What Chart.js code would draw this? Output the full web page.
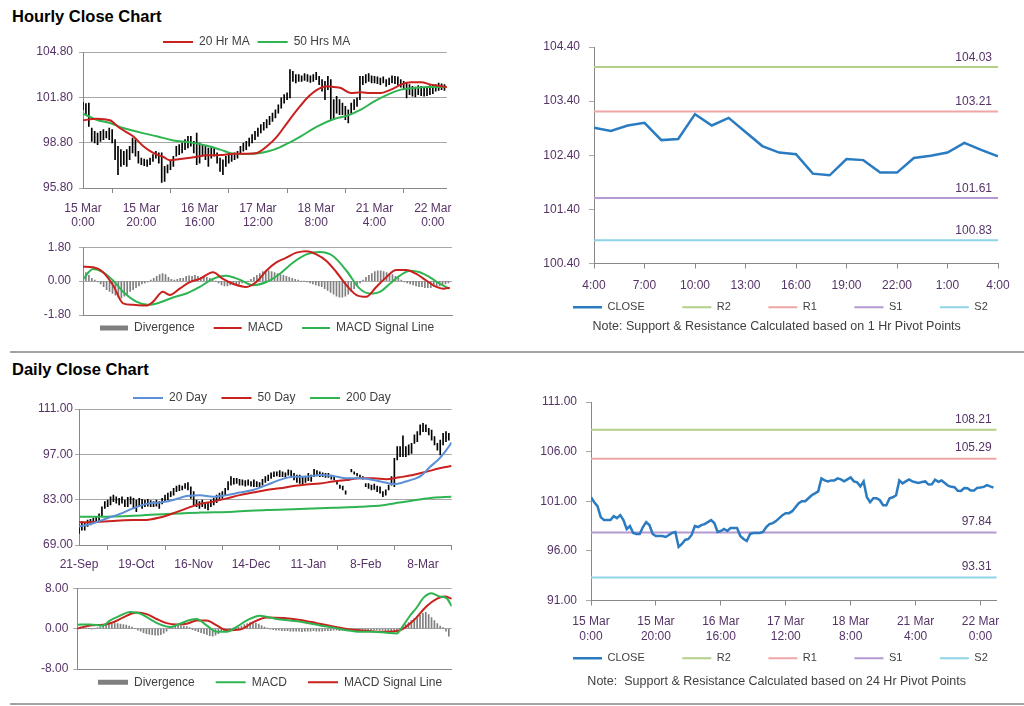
<!DOCTYPE html>
<html>
<head>
<meta charset="utf-8">
<script src="https://cdn.jsdelivr.net/npm/chart.js@4.4.0/dist/chart.umd.min.js"></script>
<style>
  html, body { margin: 0; padding: 0; background: #fff; overflow: hidden; }
  body { width: 1024px; height: 706px; position: relative; }
  .head { position: absolute; left: 12px; font: bold 16.5px "Liberation Sans", Arial, sans-serif; line-height: 16.5px; color: #000; white-space: nowrap; }
  .rule { position: absolute; left: 10px; width: 1014px; height: 2px; background: #a3a3a3; }
  canvas { position: absolute; }
</style>
</head>
<body>
<div class="head" style="top:8px">Hourly Close Chart</div>
<div class="rule" style="top:351px"></div>
<div class="head" style="top:361px">Daily Close Chart</div>
<div class="rule" style="top:703px"></div>

<canvas id="hourlyMa" width="460" height="210" style="left:0;top:22px"></canvas>
<canvas id="hourlyMacd" width="460" height="124" style="left:0;top:232px"></canvas>
<canvas id="pivot1h" width="504" height="337" style="left:520px;top:30px"></canvas>
<canvas id="dailyMa" width="460" height="205" style="left:0;top:370px"></canvas>
<canvas id="dailyMacd" width="460" height="136" style="left:0;top:576px"></canvas>
<canvas id="pivot24h" width="504" height="340" style="left:520px;top:380px"></canvas>

<script>
// ---- hourly data (15 Mar 0:00 .. 22 Mar 4:00, weekend skipped) ----
const hourlyTickIdx = [0, 20, 40, 60, 80, 100, 120];
const hourlyTickLabels = [['15 Mar', '0:00'], ['15 Mar', '20:00'], ['16 Mar', '16:00'], ['17 Mar', '12:00'],
  ['18 Mar', '8:00'], ['21 Mar', '4:00'], ['22 Mar', '0:00']];

const hourlyHigh = [101.47, 101.38, 101.42, 99.77, 99.55, 99.44, 99.55, 99.66, 99.55, 99.77,
  99.66, 99.00, 98.56, 98.34, 98.23, 98.34, 98.56, 99.11, 99.00, 98.23,
  97.78, 97.72, 97.67, 97.78, 98.01, 98.23, 98.12, 98.12, 97.23, 97.34,
  97.56, 97.90, 98.56, 98.67, 98.78, 99.00, 99.22, 99.22, 98.89, 99.44,
  98.78, 98.67, 98.56, 98.45, 98.56, 98.45, 98.12, 97.78, 97.67, 97.90,
  98.12, 98.01, 98.12, 98.23, 98.56, 98.78, 98.89, 99.11, 99.33, 99.55,
  99.77, 99.99, 100.15, 100.32, 100.54, 100.76, 100.98, 101.31, 101.76, 101.98,
  102.09, 103.63, 103.52, 103.30, 103.30, 103.23, 103.37, 103.30, 103.23, 103.30,
  103.45, 103.19, 102.97, 102.86, 103.19, 102.97, 101.65, 101.87, 101.65, 101.42,
  101.20, 100.98, 101.42, 101.65, 101.76, 103.19, 103.19, 103.30, 103.37, 103.23,
  103.19, 103.15, 103.08, 103.15, 102.97, 103.08, 103.23, 103.19, 103.15, 102.97,
  102.86, 102.75, 102.64, 102.53, 102.48, 102.57, 102.53, 102.48, 102.48, 102.57,
  102.64, 102.64, 102.75, 102.70, 102.64];
const hourlyLow = [100.98, 100.65, 99.88, 98.89, 98.78, 98.67, 98.89, 99.00, 99.11, 99.00,
  98.78, 97.67, 96.68, 97.23, 97.34, 97.23, 97.67, 98.12, 97.90, 97.45,
  97.34, 97.28, 97.23, 97.34, 97.56, 97.78, 97.45, 96.17, 96.24, 96.79,
  97.01, 97.23, 97.90, 98.01, 98.12, 98.34, 98.45, 98.56, 98.12, 97.34,
  97.45, 97.90, 97.67, 97.23, 97.78, 97.90, 97.45, 96.90, 96.68, 97.23,
  97.45, 97.56, 97.67, 97.78, 98.01, 98.23, 98.34, 98.56, 98.78, 99.00,
  99.22, 99.44, 99.62, 99.77, 99.99, 100.21, 100.43, 100.76, 101.09, 101.42,
  101.65, 101.76, 102.86, 102.75, 102.86, 102.86, 102.92, 102.86, 102.79, 102.86,
  102.97, 102.64, 102.20, 101.65, 102.31, 100.32, 100.32, 100.76, 100.65, 100.65,
  100.32, 100.10, 100.65, 100.98, 101.20, 101.65, 102.64, 102.75, 102.86, 102.75,
  102.75, 102.70, 102.64, 102.75, 102.53, 102.64, 102.75, 102.70, 102.64, 102.48,
  102.31, 101.76, 101.98, 101.87, 101.82, 101.98, 101.91, 101.87, 101.91, 101.98,
  102.04, 102.20, 102.26, 102.31, 102.26];
const hourlyClose = [101.4, 100.9, 100.5, 99.4, 99.1, 99.1, 99.1, 99.5, 99.3, 99.6,
  99.1, 98.2, 98.5, 97.8, 97.7, 97.7, 98.4, 98.9, 98.6, 97.7,
  97.5, 97.5, 97.5, 97.4, 97.6, 97.8, 97.9, 96.4, 96.7, 97.1,
  97.2, 97.6, 98.5, 98.4, 98.6, 98.7, 98.9, 99.1, 98.8, 97.9,
  98.0, 98.2, 98.0, 98.3, 98.3, 98.3, 97.5, 97.2, 97.0, 97.7,
  97.8, 97.8, 97.8, 97.9, 98.4, 98.7, 98.8, 99.0, 99.3, 99.6,
  99.8, 99.8, 100.0, 100.4, 100.8, 101.0, 101.0, 101.3, 101.6, 101.8,
  102.0, 103.3, 103.1, 103.0, 103.1, 103.1, 103.3, 103.2, 103.0, 103.2,
  103.4, 103.0, 102.9, 102.5, 103.0, 101.4, 100.9, 101.3, 101.3, 101.1,
  100.6, 100.6, 101.3, 101.4, 101.6, 103.1, 102.8, 103.0, 103.2, 103.0,
  102.91, 102.85, 102.95, 103.00, 102.68, 102.70, 103.16, 102.95, 103.09, 102.83,
  102.57, 102.45, 102.42, 102.06, 102.03, 102.33, 102.31, 102.08, 102.08, 102.35,
  102.39, 102.45, 102.63, 102.50, 102.38];

// moving averages / MACD read as [hour index, value]
const ma20Hr = [[0, 100.28], [4.6, 100.39], [9.2, 100.28], [12.6, 99.77], [17.2, 99.22], [20.7, 98.56], [24.1, 98.12],
  [27.6, 97.85], [29.9, 97.63], [33.3, 97.72], [37.9, 97.83], [42.5, 97.96], [47.1, 97.98], [51.7, 98.07], [56.3, 98.07],
  [59.7, 98.12], [63.1, 98.56], [66.6, 99.22], [70, 100.1], [73.5, 100.98], [76.9, 101.76], [80.4, 102.31], [83.8, 102.53],
  [86.1, 102.48], [88.4, 102.42], [91.8, 102.09], [95.3, 102.13], [98.7, 102.09], [102.2, 102.09], [105.6, 102.31],
  [109.1, 102.64], [112.5, 102.79], [116, 102.79], [119.4, 102.64], [124.9, 102.48]];
const ma50Hr = [[0, 100.72], [4.6, 100.32], [9.2, 100.1], [13.8, 99.77], [19.5, 99.48], [25.3, 99.22], [31, 98.95],
  [36.7, 98.82], [42.5, 98.6], [47.1, 98.34], [51.7, 98.07], [56.3, 98.05], [60.9, 98.12], [65.5, 98.34], [70, 98.73],
  [74.7, 99.22], [80.4, 99.88], [86.1, 100.37], [90.7, 100.59], [95.3, 100.98], [99.9, 101.53], [104.5, 101.98],
  [109.1, 102.31], [113.7, 102.42], [118.3, 102.48], [124.9, 102.48]];
const macdHourly = [[0, 0.76], [3.4, 0.73], [6.8, 0.47], [10.2, -0.22], [13.6, -1.18], [17, -1.26], [21.5, -1.3],
  [23.8, -1.09], [27.1, -0.57], [29.4, -0.74], [32.8, -0.40], [36.2, -0.05], [39.6, 0.12], [44.1, 0.47], [47.5, 0.12],
  [50.9, -0.14], [55.4, -0.31], [58.8, -0.05], [62.2, 0.55], [65.6, 0.99], [69, 1.25], [72.4, 1.51], [75.8, 1.59],
  [79.2, 1.42], [82.6, 1.07], [86, 0.47], [89.4, -0.22], [92.8, -0.74], [96.2, -0.83], [99.5, -0.31], [102.9, 0.21],
  [106.3, 0.59], [109.7, 0.59], [113.1, 0.38], [116.5, 0.03], [119.9, -0.31], [122.2, -0.40], [124.4, -0.35]];
const signalHourly = [[0, 0.09], [3.4, 0.64], [6.8, 0.47], [10.2, 0.03], [13.6, -0.57], [18.1, -1.09], [22.1, -1.26],
  [26, -1.14], [30.5, -0.87], [35.1, -0.66], [39.6, -0.31], [44.1, 0.12], [48.6, 0.29], [53.2, 0.07], [57.7, -0.22],
  [62.2, -0.05], [66.7, 0.38], [71.3, 0.99], [75.8, 1.42], [80.3, 1.54], [84.8, 1.33], [89.4, 0.55], [93.9, -0.40],
  [97.3, -0.66], [100.7, -0.57], [104.1, -0.14], [107.5, 0.29], [110.9, 0.55], [114.3, 0.47], [117.6, 0.21],
  [121, -0.14], [124.4, -0.40]];
const divergenceHourly = [0.5, 0.45, 0.3, 0.15, 0.05, -0.05, -0.15, -0.3, -0.45, -0.55,
  -0.65, -0.75, -0.85, -0.9, -0.8, -0.7, -0.55, -0.45, -0.35, -0.25,
  -0.15, -0.1, -0.05, 0.05, 0.15, 0.25, 0.35, 0.4, 0.35, 0.2,
  0.1, 0.05, 0.1, 0.15, 0.15, 0.25, 0.28, 0.25, 0.3, 0.25,
  0.2, 0.2, 0.2, 0.15, 0.1, 0, -0.1, -0.2, -0.25, -0.25,
  -0.2, -0.2, -0.15, -0.15, -0.1, -0.05, 0, 0.1, 0.2, 0.3,
  0.4, 0.5, 0.55, 0.55, 0.5, 0.45, 0.4, 0.35, 0.3, 0.25,
  0.2, 0.15, 0.1, 0.05, 0, 0, -0.05, -0.1, -0.15, -0.2,
  -0.25, -0.3, -0.4, -0.5, -0.6, -0.7, -0.8, -0.85, -0.85, -0.8,
  -0.7, -0.55, -0.4, -0.25, -0.1, 0.05, 0.2, 0.3, 0.4, 0.5,
  0.55, 0.55, 0.5, 0.45, 0.4, 0.35, 0.25, 0.15, 0.05, -0.05,
  -0.1, -0.15, -0.2, -0.25, -0.3, -0.3, -0.35, -0.35, -0.35, -0.3,
  -0.3, -0.25, -0.2, -0.15, -0.1];

// last 24 hours (21 Mar 4:00 .. 22 Mar 4:00)
const hourLabels = ['4:00', '5:00', '6:00', '7:00', '8:00', '9:00', '10:00', '11:00', '12:00', '13:00', '14:00', '15:00',
  '16:00', '17:00', '18:00', '19:00', '20:00', '21:00', '22:00', '23:00', '0:00', '1:00', '2:00', '3:00', '4:00'];
const levelNames = ['R2', 'R1', 'S1', 'S2'];
const pivot1hLevels = [104.03, 103.21, 101.61, 100.83];
const pivot24hLevels = [108.21, 105.29, 97.84, 93.31];

// ---- daily data (21-Sep .. ~21-Mar, trading days) ----
const dailyTickIdx = [0, 20, 40, 60, 80, 100, 120];
const dailyTickLabels = ['21-Sep', '19-Oct', '16-Nov', '14-Dec', '11-Jan', '8-Feb', '8-Mar'];
const dailyHigh = [75.2, 76.2, 75.7, 76.7, 76.9, 77.2, 77.8, 78.6, 80.8, 82.4,
  82.9, 83.9, 84.4, 83.9, 83.4, 83.9, 82.9, 83.7, 83.9, 83.4,
  82.9, 83.4, 83.1, 82.9, 83.1, 82.7, 82.4, 82.9, 82.4, 83.4,
  84.4, 85.0, 85.5, 86.5, 87.2, 87.5, 87.2, 88.0, 88.3, 87.0,
  85.5, 82.9, 82.4, 82.9, 82.1, 81.9, 82.9, 83.4, 84.4, 85.0,
  85.5, 86.5, 88.6, 90.1, 89.6, 89.6, 89.3, 89.1, 88.9, 89.1,
  88.6, 89.1, 88.6, 88.3, 89.3, 90.1, 90.6, 91.3, 91.6, 91.6,
  92.0, 91.6, 91.3, 92.2, 92.0, 91.1, 90.6, 90.6, 90.1, 90.3,
  91.1, 90.6, 92.4, 92.0, 91.6, 91.3, 91.1, 91.1, 90.6, 90.3,
  88.6, 87.5, 87.2, 85.7, 89.6, 92.4, 91.6, 91.1, 90.6, 90.1,
  88.0, 88.0, 87.5, 87.8, 87.2, 87.0, 85.5, 86.0, 87.5, 90.1,
  95.8, 99.4, 99.4, 102.7, 99.4, 99.9, 100.4, 103.0, 104.0, 106.1,
  106.6, 106.1, 105.0, 104.5, 102.5, 100.4, 101.4, 103.5, 104.0, 103.5];
const dailyLow = [72.6, 73.6, 73.6, 74.7, 75.2, 75.7, 75.9, 76.5, 77.8, 80.3,
  80.8, 81.4, 82.4, 81.9, 81.4, 81.9, 80.8, 80.8, 81.7, 80.3,
  79.3, 80.8, 80.3, 80.8, 81.0, 80.8, 80.8, 81.0, 80.3, 81.7,
  82.4, 82.9, 83.9, 84.4, 85.5, 85.8, 86.0, 86.5, 86.0, 83.4,
  81.4, 80.8, 80.3, 80.8, 80.3, 79.8, 80.8, 81.4, 82.1, 82.9,
  83.4, 84.4, 86.0, 87.5, 87.8, 88.0, 87.5, 87.5, 87.2, 87.5,
  87.2, 87.0, 87.0, 86.8, 87.5, 88.3, 88.9, 89.6, 90.1, 90.3,
  90.1, 90.1, 89.9, 90.6, 90.1, 89.1, 88.3, 88.0, 87.8, 88.3,
  88.9, 88.6, 90.1, 90.3, 90.1, 90.1, 89.9, 89.9, 89.3, 89.1,
  87.8, 86.5, 86.0, 84.7, 88.9, 91.6, 90.9, 90.3, 89.9, 89.3,
  87.0, 86.5, 86.0, 86.2, 85.5, 85.0, 83.9, 84.4, 86.0, 87.5,
  87.0, 95.3, 96.3, 96.3, 96.3, 96.8, 97.3, 100.4, 100.9, 103.0,
  104.0, 104.0, 103.0, 101.4, 99.9, 98.3, 96.8, 99.9, 100.9, 101.4];
const ma20Day = [[0, 74.7], [5, 75.7], [9.6, 77.2], [14.3, 78.6], [18.9, 80.3], [23.6, 81.7], [28.2, 82.1],
  [32.9, 82.9], [37.5, 84.1], [42.2, 84.4], [46.8, 83.9], [51.5, 84.4], [56.1, 85.2], [60.7, 86.0], [65.4, 87.5],
  [70, 89.1], [74.7, 90.1], [79.3, 90.1], [84, 90.6], [88.6, 90.3], [93.3, 89.6], [97.9, 89.6], [102.6, 89.1],
  [107.2, 88.2], [110, 87.8], [114, 88.6], [117, 89.4], [119.5, 90.5], [122.3, 93.0], [125.8, 95.8], [128.1, 98.3],
  [129.9, 100.6]];
const ma50Day = [[0, 76.0], [7.3, 76.2], [13.1, 76.5], [18.9, 76.7], [22.4, 76.7], [28.2, 77.5], [32.9, 78.8],
  [37.5, 80.3], [42.2, 81.7], [46.8, 82.4], [51.5, 83.4], [56.1, 84.4], [60.7, 85.2], [65.4, 86.0], [70, 86.5],
  [74.7, 87.2], [79.3, 87.7], [84, 88.0], [88.6, 88.6], [93.3, 89.1], [97.9, 89.6], [102.6, 89.6], [107.2, 89.3],
  [111.8, 89.9], [116.5, 90.6], [121.1, 91.6], [125.8, 92.7], [129.9, 93.4]];
const ma200Day = [[0, 77.7], [7.3, 77.7], [19, 78.0], [30.5, 78.6], [42.2, 79.0], [53.8, 79.3], [65.4, 79.8],
  [77, 80.1], [88.6, 80.5], [97.9, 80.8], [106, 81.3], [111.8, 82.1], [117.6, 82.9], [123.4, 83.6], [129.9, 83.9]];
const macdDaily = [[0, 0.76], [4.4, 0.83], [9, 0.63], [11.3, 1.59], [14.8, 2.54], [18.3, 3.3], [21.8, 2.98],
  [25.2, 1.9], [28.7, 0.83], [32.2, 0.32], [35.6, 0.95], [39.1, 1.71], [41.4, 1.9], [44.9, 0.63], [48.4, -0.63],
  [51.9, -0.63], [55.3, 0.32], [58.8, 1.59], [63.4, 2.54], [65.7, 2.35], [69.2, 1.9], [73.8, 1.59], [78.5, 1.27],
  [84.3, 0.63], [88.9, 0.19], [93.5, -0.32], [98.1, -0.63], [102.8, -0.63], [107.4, -0.83], [110.9, -0.95],
  [113.2, 0.63], [115.5, 2.54], [117.8, 4.13], [120.1, 6.03], [123, 6.98], [125.9, 6.35], [128.2, 6.03], [130, 4.44]];
const signalDaily = [[0, 0], [4.4, 0.63], [9, 0.76], [12.5, 1.27], [16, 2.22], [20.6, 3.17], [24.1, 2.86],
  [27.5, 1.9], [31, 1.08], [34.5, 0.83], [38, 0.95], [41.4, 1.59], [44.9, 1.59], [48.4, 0.63], [51.9, -0.32],
  [56.5, -0.19], [61.1, 1.27], [65.7, 2.22], [71.5, 2.1], [77.3, 1.71], [83.1, 1.08], [88.9, 0.44], [94.7, -0.19],
  [100.5, -0.44], [106.3, -0.63], [112, -0.32], [116.7, 1.59], [121.3, 4.44], [124.8, 5.9], [127.7, 6.35], [130, 5.9]];
const divergenceDaily = [0.2, 0.3, 0.2, 0.1, 0, -0.1, 0,
  0.2, 0.4, 0.5, 0.7, 0.8, 0.9, 1.0, 1.0, 0.9, 0.8, 0.7, 0.5, 0.3,
  0, -0.3, -0.5, -0.8, -1.0, -1.1, -1.2, -1.3, -1.3, -1.2, -0.9, -0.5,
  0.1, 0.3, 0.5, 0.6, 0.6, 0.5, 0.4, 0.2,
  -0.2, -0.4, -0.6, -0.8, -1.0, -1.2, -1.4, -1.5, -1.3, -1.0, -0.6,
  -0.4, -0.2, 0, 0.1, 0.2, 0.3, 0.5, 0.8, 1.0, 1.2, 1.2, 1.1, 0.9, 0.6, 0.3, 0.1, -0.1,
  -0.2, -0.3, -0.3, -0.4, -0.4, -0.4, -0.5, -0.5, -0.5, -0.5, -0.6, -0.5, -0.5, -0.5, -0.4,
  -0.5, -0.5, -0.5, -0.4, -0.4, -0.4, -0.3, -0.3, -0.4, -0.3, -0.3, -0.3, -0.2, -0.2, -0.3,
  -0.3, -0.2, -0.2, -0.3, -0.3, -0.2, -0.2, -0.3, -0.3, -0.4, -0.4, -0.5, -0.4,
  -0.3, 0, 0.4, 0.8, 1.2, 1.6, 2.0, 2.4, 2.7, 3.0, 3.2, 2.8, 2.2, 1.6, 1.0, 0.5, 0.2, -0.5, -1.5];

// ---- y-axis tick values ----
const hourlyYTicks = [95.8, 98.8, 101.8, 104.8];
const hourlyMacdTicks = [-1.8, 0, 1.8];
const pivot1hYTicks = [100.4, 101.4, 102.4, 103.4, 104.4];
const dailyYTicks = [69, 83, 97, 111];
const dailyMacdTicks = [-8, 0, 8];
const pivot24hYTicks = [91, 96, 101, 106, 111];

// ---- styling ----
const red = '#c9211e';
const green = '#2fb452';
const blue20 = '#5b8fd6';
const closeBlue = '#2a7bc0';
const levelColors = ['#b5cf88', '#f0a6a6', '#b39ad2', '#8fd3e6'];
const gridGray = '#a8a8a8';
const axisGray = '#888888';
const tickText = '#553366';
const textGray = '#404040';

Chart.defaults.font.family = '"Liberation Sans", Arial, sans-serif';
Chart.defaults.font.size = 12;
Chart.defaults.color = textGray;

// moves legend / note to where the original puts them
const placeBoxes = {
  id: 'placeBoxes',
  afterLayout(chart, args, opts) {
    const lg = chart.legend;
    if (lg && opts.legendX !== undefined) {
      const lab = lg.options.labels;
      const dx = opts.legendX - (lg.left + lab.padding);
      const dy = opts.legendY - (lg.top + lab.padding + lab.font.size / 2);
      lg.left += dx; lg.right += dx; lg.top += dy; lg.bottom += dy;
    }
    const tb = chart.titleBlock;
    if (tb && opts.titleX !== undefined) {
      const dx = opts.titleX - (tb.left + tb.right) / 2;
      const dy = opts.titleY - (tb.top + tb.bottom) / 2;
      tb.left += dx; tb.right += dx; tb.top += dy; tb.bottom += dy;
    }
  }
};

// value printed above each pivot line
const levelLabels = {
  id: 'levelLabels',
  afterDatasetsDraw(chart, args, opts) {
    if (!opts.values) return;
    const { ctx, chartArea, scales } = chart;
    ctx.save();
    ctx.font = '12px "Liberation Sans", Arial, sans-serif';
    ctx.fillStyle = tickText;
    ctx.textAlign = 'right';
    ctx.textBaseline = 'middle';
    opts.values.forEach(v => {
      ctx.fillText(v.toFixed(2), chartArea.right - opts.inset, scales.y.getPixelForValue(v) - opts.lift);
    });
    ctx.restore();
  }
};
Chart.register(placeBoxes, levelLabels);

const pts = pairs => pairs.map(p => ({ x: p[0], y: p[1] }));
const seq = arr => arr.map((v, i) => ({ x: i, y: v }));
const ranges = (lo, hi) => lo.map((v, i) => ({ x: i, y: [v, hi[i]] }));

function yAxis(min, max, values, width, tickLen, pad, gridOn) {
  return {
    min, max,
    afterBuildTicks: s => { s.ticks = values.map(v => ({ value: v })); },
    afterFit: s => { s.width = width; },
    grid: { drawOnChartArea: gridOn, drawTicks: true, tickLength: tickLen, color: gridGray },
    border: { color: axisGray },
    ticks: { padding: pad, color: tickText, font: { size: 12 }, callback: v => v.toFixed(2) }
  };
}

// empty right-hand axis: keeps the plot narrow while the legend row gets the full canvas width
function spacerAxis(width) {
  return {
    position: 'right', display: true,
    afterFit: s => { s.width = width; },
    grid: { display: false }, border: { display: false }, ticks: { display: false }
  };
}

function xAxis(max, values, labelFor, height, pad, lineHeight) {
  return {
    type: 'linear', min: 0, max, offset: false,
    afterBuildTicks: s => { s.ticks = values.map(v => ({ value: v })); },
    afterFit: s => { s.height = height; },
    grid: { drawOnChartArea: false, drawTicks: true, tickLength: 5, color: axisGray },
    border: { color: axisGray },
    ticks: { autoSkip: false, maxRotation: 0, padding: pad, color: tickText, font: { size: 12, lineHeight }, callback: labelFor }
  };
}

function bareX(max) {
  return {
    type: 'linear', min: 0, max, offset: false,
    afterFit: s => { s.height = 0; },
    grid: { display: false },
    border: { color: axisGray },
    ticks: { display: false }
  };
}

function legendCfg(position, size, gap, lineW) {
  return {
    position, align: 'start',
    labels: {
      usePointStyle: true, pointStyleWidth: lineW, boxHeight: 5, padding: gap,
      font: { size }, color: textGray,
      filter: (item, data) => !data.datasets[item.datasetIndex].hideInLegend,
      sort: (a, b) => a.datasetIndex - b.datasetIndex,
      generateLabels: chart => Chart.defaults.plugins.legend.labels.generateLabels(chart).map(item =>
        Object.assign(item, { pointStyle: chart.data.datasets[item.datasetIndex].legendShape || 'line' }))
    }
  };
}

const lineSet = (label, data, color, width) => ({
  type: 'line', label, data, borderColor: color, backgroundColor: color, borderWidth: width,
  pointRadius: 0, cubicInterpolationMode: 'monotone', fill: false
});

function pivotSets(closeData, levels, lastX) {
  const sets = [{
    type: 'line', label: 'CLOSE', data: closeData, borderColor: closeBlue, backgroundColor: closeBlue,
    borderWidth: 2.5, pointRadius: 0, tension: 0, fill: false
  }];
  levels.forEach((v, i) => sets.push({
    type: 'line', label: levelNames[i], data: [{ x: 0, y: v }, { x: lastX, y: v }],
    borderColor: levelColors[i], backgroundColor: levelColors[i], borderWidth: 2, pointRadius: 0, fill: false
  }));
  return sets;
}

const base = { animation: false, responsive: false, events: [] };

// Hourly close with moving averages
new Chart(document.getElementById('hourlyMa'), {
  type: 'line',
  data: { datasets: [
    lineSet('20 Hr MA', pts(ma20Hr), red, 2),
    lineSet('50 Hrs MA', pts(ma50Hr), green, 2),
    { type: 'bar', label: 'Hourly range', data: ranges(hourlyLow, hourlyHigh), backgroundColor: '#000',
      barThickness: 1, grouped: false, hideInLegend: true }
  ] },
  options: Object.assign({}, base, {
    layout: { padding: { left: 23, right: 13, top: 0, bottom: 0 } },
    scales: {
      x: xAxis(124.8, hourlyTickIdx, (v, i) => hourlyTickLabels[i], 44, 8, 1.2),
      y: yAxis(95.8, 104.8, hourlyYTicks, 60, 4, 6, true)
    },
    plugins: {
      legend: legendCfg('top', 12, 8, 30),
      tooltip: { enabled: false },
      placeBoxes: { legendX: 163, legendY: 20 }
    }
  })
});

// Hourly MACD
new Chart(document.getElementById('hourlyMacd'), {
  type: 'line',
  data: { datasets: [
    { type: 'bar', label: 'Divergence', data: seq(divergenceHourly), backgroundColor: '#7f7f7f',
      barThickness: 1, grouped: false, order: 1, legendShape: 'rect' },
    lineSet('MACD', pts(macdHourly), red, 2),
    lineSet('MACD Signal Line', pts(signalHourly), green, 2)
  ] },
  options: Object.assign({}, base, {
    layout: { padding: { left: 23, right: 8, top: 13, bottom: 0 } },
    scales: {
      x: bareX(125.2),
      y: yAxis(-1.8, 1.8, hourlyMacdTicks, 60, 4, 8, true)
    },
    plugins: {
      legend: legendCfg('bottom', 12, 19, 28),
      tooltip: { enabled: false },
      placeBoxes: { legendX: 100, legendY: 96 }
    }
  })
});

// 1 hour pivot chart
new Chart(document.getElementById('pivot1h'), {
  type: 'line',
  data: { datasets: pivotSets(seq(hourlyClose.slice(100)), pivot1hLevels, 24) },
  options: Object.assign({}, base, {
    layout: { padding: { left: 0, right: 0, top: 17, bottom: 0 } },
    scales: {
      x: {
        type: 'linear', min: 0, max: 24, offset: false,
        ticks: { stepSize: 3, autoSkip: false, maxRotation: 0, padding: 10, color: tickText, font: { size: 12 },
          callback: v => hourLabels[v] },
        afterFit: s => { s.height = 30; },
        grid: { drawOnChartArea: false, drawTicks: true, tickLength: 5, color: axisGray },
        border: { color: axisGray }
      },
      y: yAxis(100.4, 104.4, pivot1hYTicks, 74, 5, 9, false),
      yRight: spacerAxis(26)
    },
    plugins: {
      legend: legendCfg('bottom', 11, 37.5, 29),
      title: { display: true, position: 'bottom', text: 'Note: Support & Resistance Calculated based on 1 Hr Pivot Points',
        color: textGray, font: { size: 12.5, weight: 'normal' }, padding: 0 },
      tooltip: { enabled: false },
      placeBoxes: { legendX: 53, legendY: 277.3, titleX: 256.7, titleY: 296.7 },
      levelLabels: { values: pivot1hLevels, inset: 6, lift: 9.5 }
    }
  })
});

// Daily close with moving averages
new Chart(document.getElementById('dailyMa'), {
  type: 'line',
  data: { datasets: [
    lineSet('20 Day', pts(ma20Day), blue20, 2),
    lineSet('50 Day', pts(ma50Day), red, 2),
    lineSet('200 Day', pts(ma200Day), green, 2),
    { type: 'bar', label: 'Daily range', data: ranges(dailyLow, dailyHigh), backgroundColor: '#000',
      barThickness: 1, grouped: false, hideInLegend: true }
  ] },
  options: Object.assign({}, base, {
    layout: { padding: { left: 19, right: 8.3, top: 2.5, bottom: 0 } },
    scales: {
      x: xAxis(130, dailyTickIdx, (v, i) => dailyTickLabels[i], 30, 7, 1.2),
      y: yAxis(69, 111, dailyYTicks, 60, 4, 2, true)
    },
    plugins: {
      legend: legendCfg('top', 12, 14.5, 30),
      tooltip: { enabled: false },
      placeBoxes: { legendX: 133, legendY: 28 }
    }
  })
});

// Daily MACD
new Chart(document.getElementById('dailyMacd'), {
  type: 'line',
  data: { datasets: [
    { type: 'bar', label: 'Divergence', data: seq(divergenceDaily), backgroundColor: '#7f7f7f',
      barThickness: 1, grouped: false, order: 1, legendShape: 'rect' },
    lineSet('MACD', pts(macdDaily), green, 2),
    lineSet('MACD Signal Line', pts(signalDaily), red, 2)
  ] },
  options: Object.assign({}, base, {
    layout: { padding: { left: 17.3, right: 8.3, top: 9, bottom: 0 } },
    scales: {
      x: bareX(130),
      y: yAxis(-8, 8, dailyMacdTicks, 60, 4, 5, true)
    },
    plugins: {
      legend: legendCfg('bottom', 12, 21, 30),
      tooltip: { enabled: false },
      placeBoxes: { legendX: 98, legendY: 106.3 }
    }
  })
});

// 24 hour pivot chart
new Chart(document.getElementById('pivot24h'), {
  type: 'line',
  data: { datasets: pivotSets(seq(hourlyClose), pivot24hLevels, 125) },
  options: Object.assign({}, base, {
    layout: { padding: { left: 0, right: 0, top: 22, bottom: 0 } },
    scales: {
      x: xAxis(125, hourlyTickIdx, (v, i) => hourlyTickLabels[i], 46, 9, 1.25),
      y: yAxis(91, 111, pivot24hYTicks, 71, 5, 9, false),
      yRight: spacerAxis(27.3)
    },
    plugins: {
      legend: legendCfg('bottom', 11, 37.5, 29),
      title: { display: true, position: 'bottom', text: 'Note:  Support & Resistance Calculated based on 24 Hr Pivot Points',
        color: textGray, font: { size: 12.5, weight: 'normal' }, padding: 0 },
      tooltip: { enabled: false },
      placeBoxes: { legendX: 53, legendY: 278.3, titleX: 256.7, titleY: 301.7 },
      levelLabels: { values: pivot24hLevels, inset: 5, lift: 10.5 }
    }
  })
});
</script>
</body>
</html>
